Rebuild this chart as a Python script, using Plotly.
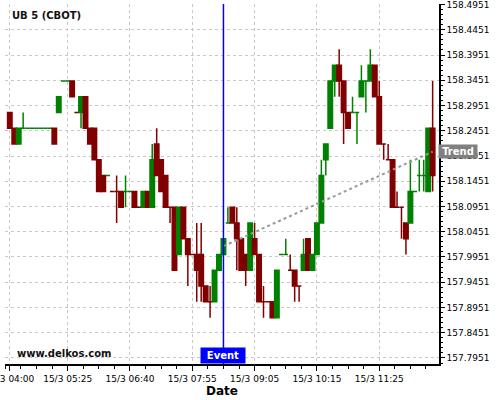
import plotly.graph_objects as go

# bar index (5 min bars), OHLC
bar_idx = list(range(96))
open_ = [158.28125, 158.25, 158.21875, 158.25, 158.25, 158.25, 158.25, 158.25,
         158.25, 158.25, 158.25, 158.28125, 158.34375, 158.34375, 158.34375, 158.28125,
         158.28125, 158.3125, 158.25, 158.25, 158.1875, 158.15625, 158.15625, 158.125,
         158.125, 158.125, 158.125, 158.125, 158.125, 158.09375, 158.09375, 158.125,
         158.09375, 158.21875, 158.1875, 158.15625, 158.09375, 158.09375, 158.0, 158.09375,
         158.03125, 158.0, 158.0, 158.0, 157.9375, 157.90625, 157.90625, 157.96875,
         158.0, 158.0625, 158.09375, 158.0625, 158.03125, 158.0, 157.96875, 158.03125,
         158.0, 157.90625, 157.90625, 157.90625, 157.875, 158.0, 158.0, 157.96875,
         157.96875, 157.9375, 157.96875, 158.03125, 157.96875, 158.0, 158.0625, 158.1875,
         158.25, 158.34375, 158.375, 158.34375, 158.28125, 158.28125, 158.28125, 158.3125,
         158.34375, 158.34375, 158.375, 158.3125, 158.21875, 158.1875, 158.1875, 158.09375,
         158.09375, 158.0625, 158.0625, 158.125, 158.15625, 158.15625, 158.125, 158.25]
high = [158.28125, 158.25, 158.25, 158.28125, 158.25, 158.25, 158.25, 158.25,
        158.25, 158.25, 158.25, 158.3125, 158.34375, 158.34375, 158.34375, 158.28125,
        158.3125, 158.3125, 158.25, 158.25, 158.1875, 158.15625, 158.15625, 158.125,
        158.15625, 158.125, 158.15625, 158.125, 158.125, 158.09375, 158.125, 158.125,
        158.21875, 158.25, 158.1875, 158.15625, 158.09375, 158.09375, 158.09375, 158.09375,
        158.03125, 158.0, 158.0625, 158.0625, 157.9375, 157.9375, 157.96875, 158.0,
        158.03125, 158.09375, 158.09375, 158.09375, 158.03125, 158.0, 158.0625, 158.0625,
        158.0, 157.9375, 157.90625, 157.90625, 157.96875, 158.0, 158.03125, 158.0,
        157.96875, 157.9375, 158.03125, 158.03125, 158.0, 158.0625, 158.1875, 158.21875,
        158.34375, 158.375, 158.40625, 158.34375, 158.28125, 158.3125, 158.28125, 158.375,
        158.34375, 158.40625, 158.375, 158.34375, 158.21875, 158.21875, 158.1875, 158.125,
        158.09375, 158.0625, 158.1875, 158.125, 158.1875, 158.1875, 158.25, 158.34375]
low = [158.25, 158.21875, 158.21875, 158.25, 158.25, 158.25, 158.25, 158.25,
       158.25, 158.25, 158.21875, 158.28125, 158.34375, 158.34375, 158.3125, 158.28125,
       158.25, 158.25, 158.21875, 158.1875, 158.125, 158.125, 158.15625, 158.125,
       158.0625, 158.09375, 158.09375, 158.125, 158.09375, 158.09375, 158.09375, 158.09375,
       158.09375, 158.15625, 158.125, 158.09375, 158.0625, 157.96875, 158.0, 158.03125,
       157.9375, 158.0, 157.90625, 157.90625, 157.90625, 157.875, 157.90625, 157.96875,
       158.0, 158.0625, 158.0625, 157.96875, 157.96875, 157.9375, 157.96875, 158.0,
       157.90625, 157.875, 157.90625, 157.875, 157.875, 158.0, 158.0, 157.96875,
       157.90625, 157.90625, 157.96875, 157.96875, 157.96875, 158.0, 158.0625, 158.15625,
       158.25, 158.3125, 158.3125, 158.21875, 158.25, 158.28125, 158.21875, 158.3125,
       158.28125, 158.34375, 158.3125, 158.21875, 158.1875, 158.1875, 158.09375, 158.09375,
       158.03125, 158.0, 158.0625, 158.125, 158.125, 158.125, 158.125, 158.125]
close = [158.25, 158.21875, 158.25, 158.25, 158.25, 158.25, 158.25, 158.25,
         158.25, 158.25, 158.21875, 158.3125, 158.34375, 158.34375, 158.3125, 158.28125,
         158.3125, 158.25, 158.21875, 158.1875, 158.125, 158.125, 158.15625, 158.125,
         158.125, 158.09375, 158.125, 158.125, 158.09375, 158.09375, 158.125, 158.09375,
         158.1875, 158.15625, 158.125, 158.09375, 158.09375, 157.96875, 158.09375, 158.03125,
         158.0, 158.0, 157.96875, 157.9375, 157.90625, 157.90625, 157.96875, 158.0,
         158.03125, 158.0625, 158.0625, 158.03125, 157.96875, 157.96875, 158.0625, 158.0,
         157.90625, 157.90625, 157.90625, 157.875, 157.96875, 158.0, 158.0, 157.96875,
         157.9375, 157.9375, 158.0, 157.96875, 158.0, 158.0625, 158.15625, 158.21875,
         158.34375, 158.375, 158.34375, 158.28125, 158.25, 158.28125, 158.28125, 158.34375,
         158.34375, 158.375, 158.3125, 158.21875, 158.21875, 158.1875, 158.09375, 158.09375,
         158.09375, 158.03125, 158.125, 158.125, 158.15625, 158.15625, 158.25, 158.15625]

tick_idx = [0, 13, 27, 41, 55, 69, 83]
tick_labels = ["15/3 04:00", "15/3 05:25", "15/3 06:40", "15/3 07:55",
               "15/3 09:05", "15/3 10:15", "15/3 11:25"]

event_idx = 48
trend_x = [48, 95]
trend_y = [158.0165, 158.2036]

GREEN = "#008000"
RED = "#800000"
GRID = "#c8c8c8"

fig = go.Figure()
fig.add_trace(go.Candlestick(
    x=bar_idx, open=open_, high=high, low=low, close=close,
    increasing=dict(line=dict(color=GREEN, width=1.5), fillcolor=GREEN),
    decreasing=dict(line=dict(color=RED, width=1.5), fillcolor=RED),
    hoverinfo="skip"))
fig.add_trace(go.Scatter(
    x=trend_x, y=trend_y, mode="lines",
    line=dict(color="#999999", width=2, dash="dot"), hoverinfo="skip"))

fig.add_shape(type="line", xref="x", yref="paper", x0=event_idx, x1=event_idx,
              y0=0, y1=1, line=dict(color="#0000ff", width=1.5))

fig.add_annotation(x=event_idx, y=0, xref="x", yref="paper", yanchor="bottom",
                   text="<b>Event</b>", showarrow=False, bgcolor="#0000ff",
                   font=dict(color="white", size=10), width=42, height=13, borderpad=1)
fig.add_annotation(x=1, y=trend_y[-1], xref="paper", yref="y", xanchor="left", xshift=-1,
                   yanchor="middle",
                   text="<b>Trend</b>", showarrow=False, bgcolor="#808080",
                   font=dict(color="white", size=10), width=36, height=11, borderpad=1)
fig.add_annotation(x=0.0115, y=0.968, xref="paper", yref="paper", xanchor="left",
                   yanchor="middle", text="<b>UB 5 (CBOT)</b>", showarrow=False,
                   font=dict(color="#111111", size=10))
fig.add_annotation(x=0.023, y=0.028, xref="paper", yref="paper", xanchor="left",
                   yanchor="middle", text="<b>www.delkos.com</b>", showarrow=False,
                   font=dict(color="#111111", size=10))

fig.update_layout(
    width=500, height=400,
    margin=dict(l=5, r=61, t=4, b=36),
    paper_bgcolor="white", plot_bgcolor="white",
    showlegend=False, boxgap=0, boxgroupgap=0,
    font=dict(family="DejaVu Sans", size=9, color="black"),
    xaxis=dict(range=[-1.08, 96.43], tickmode="array", tickvals=tick_idx, ticktext=tick_labels,
               ticklabeloverflow="allow",
               showgrid=True, gridcolor=GRID, griddash="3px,3px", gridwidth=1,
               showline=True, linecolor="black", linewidth=1.5,
               ticks="outside", ticklen=5, tickcolor="black", zeroline=False,
               minor=dict(ticks="outside", ticklen=3, tickcolor="black", tickmode="linear",
                          tick0=-1, dtick=3.5, showgrid=False),
               rangeslider=dict(visible=False), automargin=False,
               title=dict(text="<b>Date</b>", font=dict(size=12), standoff=4)),
    yaxis=dict(side="right", range=[157.7832, 158.4961], tickmode="linear",
               tick0=157.7951, dtick=0.05, tickformat=".4f",
               ticklabeloverflow="allow",
               showgrid=True, gridcolor=GRID, griddash="3px,3px", gridwidth=1,
               showline=True, linecolor="black", linewidth=1.5,
               ticks="outside", ticklen=4, tickcolor="black", zeroline=False,
               minor=dict(ticks="outside", ticklen=2, tickcolor="black",
                          tick0=157.7951, dtick=0.01, showgrid=False),
               automargin=False),
)

# page body has an 8px default margin; drop it so the chart sits at the corner
fig.write_html("out.html", config={"displayModeBar": False},
               post_script="document.body.style.margin='0';")
